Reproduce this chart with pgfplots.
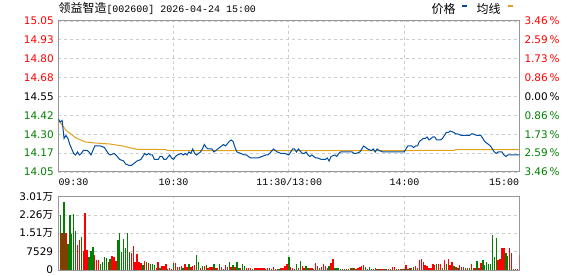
\documentclass[border=0pt]{standalone}
\usepackage{fontspec}
\setmainfont{DejaVu Sans}
\newfontfamily\cjk{Noto Sans CJK SC}
\newfontfamily\mono{Liberation Mono}
\usepackage{pgfplots}
\pgfplotsset{compat=1.18}
\definecolor{pup}{RGB}{255,0,0}
\definecolor{pdn}{RGB}{0,128,0}
\definecolor{pline}{RGB}{0,76,160}
\definecolor{avgc}{RGB}{224,160,32}
\definecolor{gridc}{RGB}{205,205,205}
\definecolor{framec}{RGB}{150,150,150}
\pgfplotsset{
  chartbase/.style={
    anchor=south west, scale only axis, width=461bp,
    xmin=0, xmax=240, xtick={60,120,180}, xticklabels={},
    grid=major, major grid style={gridc, dash pattern=on 3bp off 3bp, line width=0.8bp},
    major tick length=0, axis line style={framec, line width=1bp},
    tick label style={font=\fontsize{10.5}{12}\selectfont},
    yticklabel style={inner sep=0pt, anchor=east},
    scaled y ticks=false,
  }
}
\begin{document}
\begin{tikzpicture}
\useasboundingbox (0bp,0bp) rectangle (578bp,276bp);
% ---------------- price panel
\begin{axis}[chartbase, name=main, at={(58.3bp,104bp)}, height=151bp,
  ymin=14.0465, ymax=15.0535,
  ytick={14.0465,14.1724,14.2983,14.4241,14.55,14.6759,14.8017,14.9276,15.0535},
  yticklabels={\textcolor{pdn}{14.05},\textcolor{pdn}{14.17},\textcolor{pdn}{14.30},\textcolor{pdn}{14.42},14.55,\textcolor{pup}{14.68},\textcolor{pup}{14.80},\textcolor{pup}{14.93},\textcolor{pup}{15.05}},
  yticklabel style={xshift=-4.3bp}]
\addplot[avgc, line width=1bp] coordinates {
(0,14.39)(2,14.36)(4,14.325)(7,14.295)(9,14.275)(12,14.258)(14,14.247)(20,14.239)(27,14.233)(34,14.219)(38,14.206)(41,14.198)(56,14.196)(57,14.189)(206,14.190)(207,14.196)(240,14.196)};
\addplot[pline, line width=1bp] coordinates {
(0,14.40)(1,14.38)(2,14.39)(3,14.27)(4,14.29)(5,14.27)(6,14.23)(7,14.20)(8,14.17)(9,14.16)(10,14.18)(11,14.16)(12,14.17)(13,14.19)(15,14.19)(16,14.18)(17,14.16)(19,14.22)(22,14.22)(24,14.21)(26,14.17)(27,14.16)(29,14.17)(30,14.16)(32,14.13)(34,14.12)(35,14.10)(37,14.09)(38,14.09)(40,14.11)(41,14.12)(43,14.13)(44,14.15)(45,14.17)(46,14.16)(47,14.17)(48,14.16)(49,14.16)(50,14.13)(52,14.13)(53,14.15)(54,14.15)(55,14.13)(56,14.13)(58,14.16)(59,14.14)(60,14.13)(61,14.15)(62,14.16)(64,14.17)(65,14.16)(66,14.17)(67,14.16)(68,14.18)(69,14.17)(70,14.20)(71,14.17)(72,14.16)(74,14.18)(75,14.20)(76,14.23)(77,14.21)(78,14.20)(80,14.20)(81,14.18)(83,14.20)(84,14.21)(86,14.23)(87,14.22)(89,14.25)(90,14.26)(91,14.25)(92,14.21)(93,14.18)(95,14.17)(97,14.16)(98,14.16)(99,14.15)(100,14.14)(103,14.14)(104,14.14)(106,14.15)(108,14.16)(109,14.16)(110,14.17)(112,14.20)(113,14.19)(114,14.18)(116,14.17)(117,14.17)(118,14.17)(120,14.16)(121,14.18)(122,14.20)(123,14.20)(124,14.18)(125,14.20)(127,14.17)(128,14.17)(129,14.18)(130,14.16)(131,14.15)(132,14.16)(134,14.14)(135,14.14)(137,14.13)(139,14.13)(140,14.14)(141,14.12)(142,14.15)(144,14.16)(145,14.15)(146,14.17)(147,14.18)(148,14.18)(150,14.18)(152,14.18)(153,14.18)(154,14.17)(155,14.17)(157,14.18)(158,14.20)(159,14.22)(160,14.21)(161,14.20)(163,14.19)(164,14.20)(165,14.18)(166,14.20)(167,14.19)(169,14.18)(171,14.18)(173,14.18)(175,14.18)(177,14.18)(179,14.18)(180,14.18)(181,14.20)(182,14.22)(184,14.22)(185,14.21)(186,14.22)(187,14.22)(188,14.25)(190,14.27)(191,14.27)(192,14.28)(193,14.26)(195,14.28)(196,14.28)(197,14.26)(199,14.26)(200,14.27)(201,14.29)(202,14.31)(203,14.31)(204,14.32)(206,14.31)(207,14.30)(208,14.30)(210,14.29)(211,14.29)(213,14.29)(214,14.29)(215,14.30)(216,14.30)(218,14.29)(220,14.29)(221,14.27)(222,14.25)(223,14.24)(225,14.22)(226,14.20)(227,14.18)(228,14.17)(229,14.18)(230,14.18)(231,14.18)(232,14.16)(233,14.15)(234,14.16)(236,14.16)(240,14.16)};
\end{axis}
% ---------------- volume panel
\begin{axis}[chartbase, name=vol, at={(58.3bp,6bp)}, height=73.3bp,
  ymin=0, ymax=30116,
  ytick={0,7529,15058,22587,30116},
  yticklabels={0,7529,1.51{\cjk 万},2.26{\cjk 万},3.01{\cjk 万}},
  yticklabel style={xshift=-5bp}]
\addplot[ycomb, pup, line width=1.4bp] coordinates {
(2,15060)(4,15060)(10,10270)(11,12320)(13,7800)(14,23410)(15,8210)(19,6160)(20,4110)(21,4110)(26,3420)(28,5750)(29,5480)(30,3700)(38,6850)(39,9860)(40,3150)(41,6430)(42,3150)(43,2740)(45,3700)(47,2740)(51,960)(52,3420)(54,1780)(55,1780)(56,2330)(58,680)(59,500)
(61,2740)(62,1370)(63,1230)(64,1510)(66,2330)(67,1100)(69,1370)(70,1780)(71,2050)(74,960)(76,1510)(78,680)(79,1230)(80,1230)(82,680)(83,960)(85,1370)(86,410)(87,2050)(88,1230)(90,1230)(92,1230)(95,960)(98,680)(99,680)(100,680)(102,680)(103,680)(104,680)(105,820)(106,680)(107,680)(108,410)(109,680)(110,680)(112,1100)(113,410)(114,410)(116,680)(117,960)(118,1780)(119,2460)
(121,1230)(122,680)(125,680)(127,1780)(128,680)(131,680)(132,680)(134,2870)(135,1780)(137,1230)(138,2460)(139,1640)(140,680)(142,2870)(143,4520)(148,410)(150,410)(153,680)(155,410)(156,680)(157,1370)(158,1780)(159,2050)(161,410)(164,410)(166,410)(168,410)(169,410)(171,410)(172,410)(174,1370)(175,1370)(177,410)(179,410)
(181,2050)(183,960)(186,1510)(187,680)(188,4110)(189,4520)(190,3420)(191,2050)(192,1780)(193,960)(194,680)(195,2460)(196,2050)(198,2330)(199,2460)(201,4110)(203,4520)(204,2050)(205,3420)(207,1230)(209,2050)(210,1230)(211,1230)(213,960)(215,2460)(217,680)(219,960)(220,2740)(229,4110)(230,4520)(231,9170)(232,9170)(235,9170)(236,6850)(238,410)(239,410)(240,6160)};
\addplot[ycomb, pdn, line width=1.4bp] coordinates {
(1,22590)(3,27790)(5,10540)(6,22590)(7,14650)(8,22860)(9,16020)(12,13420)(16,5480)(17,7800)(18,9450)(22,2330)(23,3150)(24,5200)(25,5070)(27,4520)(31,12320)(32,15060)(33,7530)(34,12730)(35,9170)(36,15060)(37,7530)(44,2050)(46,3420)(48,2330)(49,2600)(50,2050)(53,960)(57,410)
(60,2740)(65,960)(68,2330)(72,6160)(73,3150)(75,1510)(77,2050)(81,2330)(84,2330)(89,3150)(91,2050)(93,3150)(94,680)(96,2330)(97,1780)(101,410)(111,410)(115,410)
(120,5340)(123,410)(124,2460)(126,3700)(129,1510)(130,960)(133,410)(136,960)(141,1640)(144,680)(145,680)(146,680)(147,410)(149,410)(151,410)(152,680)(154,680)(160,1230)(162,1230)(163,410)(165,820)(167,410)(170,410)(173,410)(176,410)(178,410)(180,410)
(182,410)(184,680)(185,1230)(197,2330)(200,960)(202,2330)(206,1780)(208,960)(212,960)(214,960)(216,680)(218,3700)(221,4110)(222,2050)(223,3150)(224,2330)(225,2460)(226,14380)(227,5480)(228,13280)(233,6850)(234,5890)(237,410)};
\end{axis}
% ---------------- right percentage labels
\foreach \k/\t/\c in {0/3.46/pdn,1/2.59/pdn,2/1.73/pdn,3/0.86/pdn,4/0.00/black,5/0.86/pup,6/1.73/pup,7/2.59/pup,8/3.46/pup}
  \node[anchor=west, inner sep=0pt, text=\c, font=\fontsize{10.5}{12}\selectfont] at (524.3bp, 104bp+\k*18.875bp) {\t\,\%};
% ---------------- time labels
\begin{scope}[every node/.style={inner sep=0pt, font=\mono\fontsize{10}{12}\selectfont}]
\node[anchor=west] at (58.3bp,94bp) {09:30};
\node at (173.5bp,94bp) {10:30};
\node at (289.3bp,94bp) {11:30/13:00};
\node at (404.5bp,94bp) {14:00};
\node[anchor=east] at (519.3bp,94bp) {15:00};
\end{scope}
% ---------------- title and legend
\node[anchor=west, inner sep=0pt] at (58.5bp,267.5bp) {\fontsize{12}{14}\selectfont\cjk 领益智造\mono\fontsize{10}{12}\selectfont [002600] 2026-04-24 15:00};
\node[anchor=west, inner sep=0pt, font=\cjk\fontsize{12}{14}\selectfont] at (431.5bp,267.5bp) {价格};
\fill[pline] (461.5bp,268.7bp) rectangle (467bp,271bp);
\node[anchor=west, inner sep=0pt, font=\cjk\fontsize{12}{14}\selectfont] at (476.5bp,267.5bp) {均线};
\fill[avgc] (507.5bp,268.7bp) rectangle (513bp,271bp);
\end{tikzpicture}
\end{document}
